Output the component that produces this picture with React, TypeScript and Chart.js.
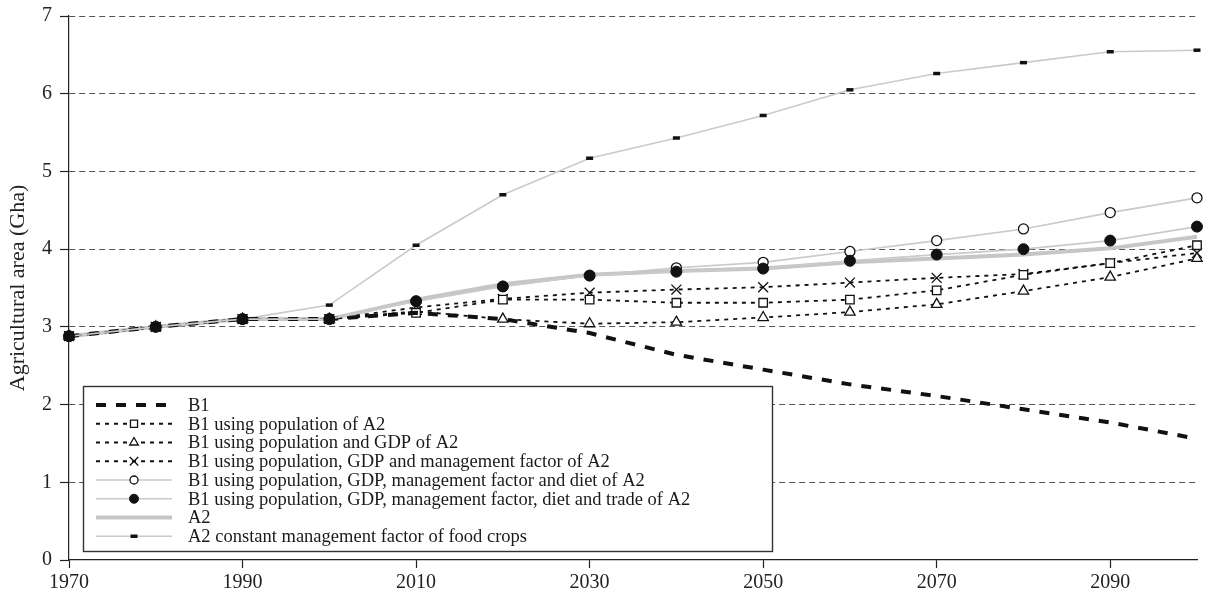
import React, { useEffect, useRef } from "react";
import { Chart, registerables } from "chart.js";
import { drawPoint } from "chart.js/helpers";

Chart.register(...registerables);

// ---- data ----
const years = [1970, 1980, 1990, 2000, 2010, 2020, 2030, 2040, 2050, 2060, 2070, 2080, 2090, 2100];
const xTickYears = [1970, 1990, 2010, 2030, 2050, 2070, 2090];
const yTickValues = [0, 1, 2, 3, 4, 5, 6, 7];

const seriesLabels = [
  "B1",
  "B1 using population of A2",
  "B1 using population and GDP of A2",
  "B1 using population, GDP and management factor of A2",
  "B1 using population, GDP, management factor and diet of A2",
  "B1 using population, GDP, management factor, diet and trade of A2",
  "A2",
  "A2 constant management factor of food crops",
];

const b1 = [2.88, 3.0, 3.1, 3.1, 3.18, 3.1, 2.92, 2.64, 2.45, 2.26, 2.11, 1.94, 1.77, 1.56];
const b1Pop = [2.88, 3.0, 3.1, 3.1, 3.18, 3.35, 3.35, 3.31, 3.31, 3.35, 3.47, 3.67, 3.82, 4.05];
const b1PopGdp = [2.88, 3.0, 3.1, 3.1, 3.2, 3.1, 3.04, 3.06, 3.12, 3.19, 3.29, 3.46, 3.64, 3.88];
const b1PopGdpMgmt = [2.88, 3.0, 3.1, 3.1, 3.25, 3.36, 3.44, 3.48, 3.51, 3.57, 3.63, 3.68, 3.82, 3.95];
const b1Diet = [2.88, 3.0, 3.1, 3.1, 3.33, 3.52, 3.66, 3.76, 3.83, 3.97, 4.11, 4.26, 4.47, 4.66];
const b1Trade = [2.88, 3.0, 3.1, 3.1, 3.33, 3.52, 3.66, 3.71, 3.75, 3.85, 3.93, 4.0, 4.11, 4.29];
const a2 = [2.88, 3.0, 3.1, 3.1, 3.35, 3.55, 3.67, 3.72, 3.75, 3.83, 3.88, 3.93, 4.01, 4.16];
const a2Const = [2.88, 3.0, 3.1, 3.28, 4.05, 4.7, 5.17, 5.43, 5.72, 6.05, 6.26, 6.4, 6.54, 6.56];

const seriesValues = [b1, b1Pop, b1PopGdp, b1PopGdpMgmt, b1Diet, b1Trade, a2, a2Const];

// ---- styles ----
const LIGHT = "#cacaca";
const styles: any[] = [
  { order: 0, borderColor: "#111", borderWidth: 4, borderDash: [10, 10], pointStyle: false, pointRadius: 0, pointBackgroundColor: "#111", pointBorderColor: "#111", pointBorderWidth: 0 },
  { order: 1, borderColor: "#111", borderWidth: 1.8, borderDash: [4, 5], pointStyle: "rect", pointRadius: 6, pointBackgroundColor: "#fff", pointBorderColor: "#111", pointBorderWidth: 1.3 },
  { order: 2, borderColor: "#111", borderWidth: 1.8, borderDash: [4, 5], pointStyle: "triangle", pointRadius: 6, pointBackgroundColor: "#fff", pointBorderColor: "#111", pointBorderWidth: 1.3 },
  { order: 3, borderColor: "#111", borderWidth: 1.8, borderDash: [4, 5], pointStyle: "crossRot", pointRadius: 7, pointBackgroundColor: "#fff", pointBorderColor: "#111", pointBorderWidth: 1.3 },
  { order: 4, borderColor: LIGHT, borderWidth: 1.6, borderDash: [], pointStyle: "circle", pointRadius: 5, pointBackgroundColor: "#fff", pointBorderColor: "#111", pointBorderWidth: 1.3 },
  { order: -1, borderColor: LIGHT, borderWidth: 1.6, borderDash: [], pointStyle: "circle", pointRadius: 5.5, pointBackgroundColor: "#111", pointBorderColor: "#111", pointBorderWidth: 1 },
  { order: 6, borderColor: "#c6c6c6", borderWidth: 4, borderDash: [], pointStyle: false, pointRadius: 0, pointBackgroundColor: "#c6c6c6", pointBorderColor: "#c6c6c6", pointBorderWidth: 0 },
  { order: 7, borderColor: LIGHT, borderWidth: 1.6, borderDash: [], pointStyle: "line", pointRadius: 3.5, pointBackgroundColor: "#111", pointBorderColor: "#111", pointBorderWidth: 3.5 },
];

const FONT = "'Liberation Serif', 'Times New Roman', serif";

const boxLegend = {
  id: "boxLegend",
  afterDatasetsDraw(chart: any) {
    const { ctx, chartArea } = chart;
    const left = chartArea.left + 14;
    const right = chartArea.left + 703;
    const top = chartArea.top + 370;
    const bottom = chartArea.bottom - 9;
    ctx.save();
    ctx.fillStyle = "#fff";
    ctx.fillRect(left, top, right - left, bottom - top);
    ctx.strokeStyle = "#333";
    ctx.lineWidth = 1.4;
    ctx.strokeRect(Math.round(left) + 0.5, Math.round(top) + 0.5, right - left, bottom - top);
    const rowH = 18.75;
    chart.data.datasets.forEach((ds: any, i: number) => {
      const y = top + 19 + i * rowH;
      const x1 = left + 13;
      const x2 = left + 89;
      const xm = left + 51;
      ctx.save();
      ctx.strokeStyle = ds.borderColor;
      ctx.lineWidth = ds.borderWidth;
      ctx.setLineDash(ds.borderDash || []);
      ctx.beginPath();
      ctx.moveTo(x1, y);
      ctx.lineTo(x2, y);
      ctx.stroke();
      ctx.setLineDash([]);
      if (ds.pointStyle) {
        ctx.fillStyle = ds.pointBackgroundColor;
        ctx.strokeStyle = ds.pointBorderColor;
        ctx.lineWidth = ds.pointBorderWidth;
        const r = ds.pointStyle === "line" ? ds.pointRadius : ds.pointRadius - 1;
        drawPoint(ctx, { pointStyle: ds.pointStyle, radius: r, rotation: 0, borderWidth: ds.pointBorderWidth }, xm, y);
      }
      ctx.restore();
      ctx.fillStyle = "#1a1a1a";
      ctx.font = `18.5px ${FONT}`;
      ctx.textBaseline = "middle";
      ctx.textAlign = "left";
      ctx.fillText(ds.label, left + 105, y + 1);
    });
    ctx.restore();
  },
};

export default function App() {
  const canvasRef = useRef<HTMLCanvasElement | null>(null);

  useEffect(() => {
    if (!canvasRef.current) return;
    const datasets = seriesValues.map((vals, i) => ({
      label: seriesLabels[i],
      data: vals.map((v, j) => ({ x: years[j], y: v })),
      fill: false,
      tension: 0,
      clip: false as any,
      ...styles[i],
    }));

    const chart = new Chart(canvasRef.current, {
      type: "line",
      data: { datasets },
      plugins: [boxLegend],
      options: {
        animation: false,
        responsive: false,
        layout: { padding: { top: 16, right: 14, left: 0, bottom: 0 } },
        plugins: { legend: { display: false }, tooltip: { enabled: false } },
        scales: {
          x: {
            type: "linear",
            min: years[0],
            max: years[years.length - 1],
            afterBuildTicks: (scale: any) => {
              scale.ticks = xTickYears.map((v) => ({ value: v }));
            },
            afterFit: (scale: any) => {
              scale.height = 37;
              scale.paddingLeft = 0;
              scale.paddingRight = 0;
            },
            grid: { display: true, drawOnChartArea: false, drawTicks: true, tickLength: 8, tickColor: "#222", tickWidth: 1.2 },
            border: { display: true, color: "#222", width: 1.2 },
            ticks: {
              autoSkip: false,
              maxRotation: 0,
              padding: 3,
              color: "#222",
              font: { family: FONT, size: 20 },
              callback: (v: any) => String(v),
            },
          },
          y: {
            type: "linear",
            min: 0,
            max: 7,
            afterBuildTicks: (scale: any) => {
              scale.ticks = yTickValues.map((v) => ({ value: v }));
            },
            afterFit: (scale: any) => {
              scale.width = 69;
              scale.paddingTop = 0;
              scale.paddingBottom = 0;
            },
            grid: {
              display: true,
              drawOnChartArea: true,
              drawTicks: true,
              tickLength: 9,
              tickColor: "#222",
              tickWidth: 1.2,
              tickBorderDash: [],
              color: (c: any) => (c.tick && c.tick.value === 0 ? "rgba(0,0,0,0)" : "#555"),
              lineWidth: 1,
            },
            border: { display: true, color: "#222", width: 1.2, dash: [6, 4] },
            ticks: {
              padding: 8,
              color: "#222",
              font: { family: FONT, size: 20 },
              callback: (v: any) => String(v),
            },
            title: {
              display: true,
              text: "Agricultural area (Gha)",
              color: "#222",
              font: { family: FONT, size: 22 },
              padding: { top: 5, bottom: 0 },
            },
          },
        },
      } as any,
    });
    return () => chart.destroy();
  }, []);

  return (
    <div style={{ position: "absolute", left: 0, top: 0, width: 1211, height: 597, background: "#fff" }}>
      <canvas ref={canvasRef} width={1211} height={597} style={{ width: 1211, height: 597 }} />
    </div>
  );
}
